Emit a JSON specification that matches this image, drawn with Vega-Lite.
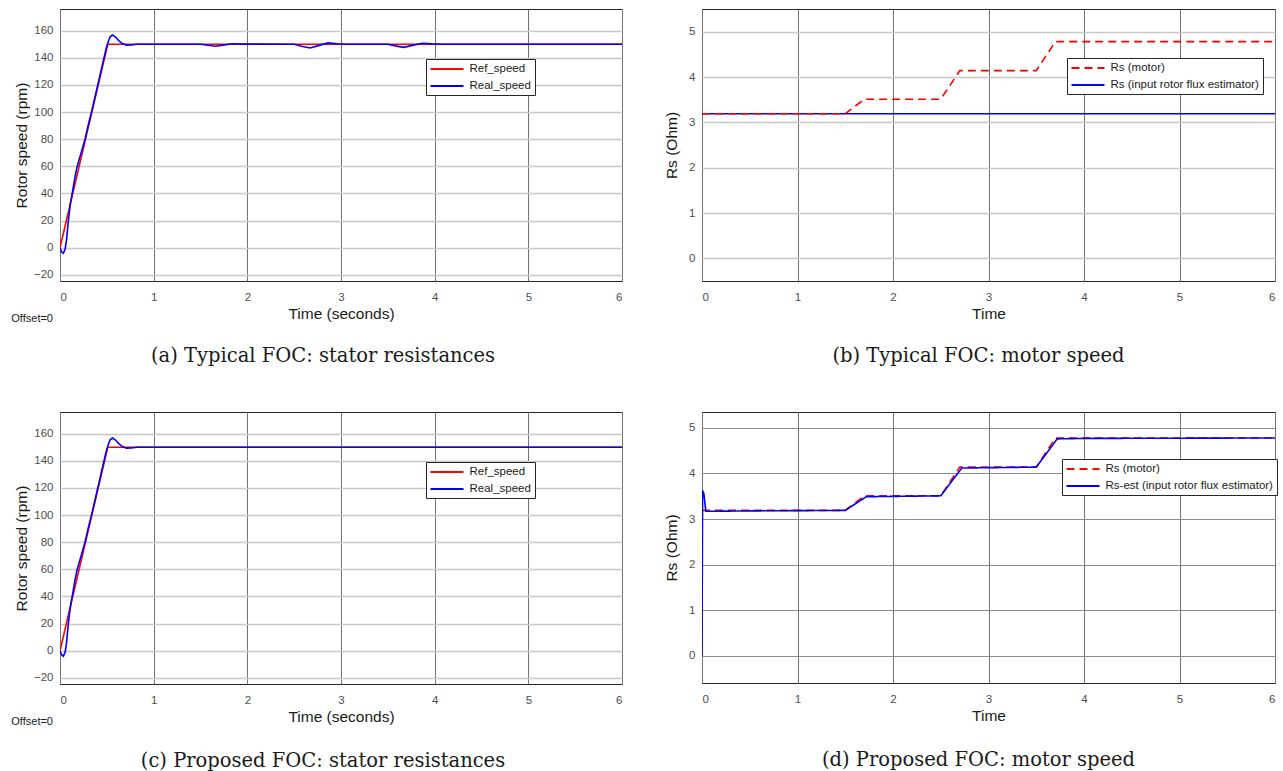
{
  "$schema": "https://vega.github.io/schema/vega-lite/v6.json",
  "background": "white",
  "padding": {"left": 10, "top": 8, "right": 0, "bottom": 0},
  "config": {
    "view": {"stroke": "#262626", "strokeWidth": 1},
    "axis": {
      "domain": false, "ticks": false,
      "labelFont": "Liberation Sans", "labelFontSize": 11.5, "labelColor": "#4d4d4d",
      "titleFont": "Liberation Sans", "titleFontSize": 15.5, "titleFontWeight": "normal", "titleColor": "#1a1a1a",
      "gridWidth": 1
    },
    "axisX": {"gridColor": "#737373", "labelPadding": 10, "titlePadding": 4},
    "axisY": {"gridColor": "#c8c8c8", "gridWidth": 1.6, "labelPadding": 7},
    "legend": {
      "orient": "none", "title": null, "strokeColor": "#262626", "fillColor": "white",
      "padding": 3.5, "labelFont": "Liberation Sans", "labelFontSize": 11.5, "labelColor": "#1a1a1a", "labelLimit": 0,
      "symbolType": "M-1,0H5", "symbolSize": 121, "symbolStrokeWidth": 2, "rowPadding": 5, "labelOffset": 27
    },
    "title": {"font": "DejaVu Serif", "fontSize": 19.5, "fontWeight": "normal", "color": "#1a1a1a", "orient": "bottom", "offset": 25}
  },
  "datasets": {
    "tl": [
      {"t": 0, "v": 0, "s": "Ref_speed"}, {"t": 0.51, "v": 150, "s": "Ref_speed"}, {"t": 6, "v": 150, "s": "Ref_speed"},
      {"t": 0, "v": 0, "s": "Real_speed"}, {"t": 0.015, "v": -3, "s": "Real_speed"}, {"t": 0.036, "v": -4, "s": "Real_speed"},
      {"t": 0.055, "v": -1, "s": "Real_speed"}, {"t": 0.07, "v": 6, "s": "Real_speed"}, {"t": 0.089, "v": 20, "s": "Real_speed"},
      {"t": 0.11, "v": 32, "s": "Real_speed"}, {"t": 0.135, "v": 42, "s": "Real_speed"}, {"t": 0.16, "v": 52, "s": "Real_speed"},
      {"t": 0.18, "v": 59, "s": "Real_speed"}, {"t": 0.2, "v": 64, "s": "Real_speed"}, {"t": 0.23, "v": 71, "s": "Real_speed"},
      {"t": 0.267, "v": 80, "s": "Real_speed"}, {"t": 0.3, "v": 90, "s": "Real_speed"}, {"t": 0.34, "v": 101, "s": "Real_speed"},
      {"t": 0.38, "v": 113, "s": "Real_speed"}, {"t": 0.42, "v": 125, "s": "Real_speed"}, {"t": 0.46, "v": 137, "s": "Real_speed"},
      {"t": 0.49, "v": 146, "s": "Real_speed"}, {"t": 0.51, "v": 151, "s": "Real_speed"}, {"t": 0.535, "v": 155.5, "s": "Real_speed"},
      {"t": 0.56, "v": 156.8, "s": "Real_speed"}, {"t": 0.59, "v": 155.5, "s": "Real_speed"}, {"t": 0.63, "v": 152.5, "s": "Real_speed"},
      {"t": 0.67, "v": 150.3, "s": "Real_speed"}, {"t": 0.71, "v": 149.4, "s": "Real_speed"}, {"t": 0.76, "v": 149.5, "s": "Real_speed"},
      {"t": 0.82, "v": 150, "s": "Real_speed"}, {"t": 1.5, "v": 150, "s": "Real_speed"},
      {"t": 1.58, "v": 149.3, "s": "Real_speed"}, {"t": 1.66, "v": 148.6, "s": "Real_speed"}, {"t": 1.74, "v": 149.4, "s": "Real_speed"},
      {"t": 1.84, "v": 150.4, "s": "Real_speed"}, {"t": 1.95, "v": 150.1, "s": "Real_speed"}, {"t": 2.5, "v": 150, "s": "Real_speed"},
      {"t": 2.58, "v": 148.6, "s": "Real_speed"}, {"t": 2.67, "v": 147.3, "s": "Real_speed"}, {"t": 2.76, "v": 149, "s": "Real_speed"},
      {"t": 2.86, "v": 151, "s": "Real_speed"}, {"t": 2.96, "v": 150.4, "s": "Real_speed"}, {"t": 3.05, "v": 150, "s": "Real_speed"},
      {"t": 3.5, "v": 150, "s": "Real_speed"}, {"t": 3.58, "v": 148.8, "s": "Real_speed"}, {"t": 3.67, "v": 147.7, "s": "Real_speed"},
      {"t": 3.76, "v": 149.2, "s": "Real_speed"}, {"t": 3.87, "v": 150.8, "s": "Real_speed"}, {"t": 3.97, "v": 150.3, "s": "Real_speed"},
      {"t": 4.08, "v": 150, "s": "Real_speed"}, {"t": 6, "v": 150, "s": "Real_speed"}
    ],
    "bl": [
      {"t": 0, "v": 0, "s": "Ref_speed"}, {"t": 0.51, "v": 150, "s": "Ref_speed"}, {"t": 6, "v": 150, "s": "Ref_speed"},
      {"t": 0, "v": 0, "s": "Real_speed"}, {"t": 0.015, "v": -3, "s": "Real_speed"}, {"t": 0.036, "v": -4, "s": "Real_speed"},
      {"t": 0.055, "v": -1, "s": "Real_speed"}, {"t": 0.07, "v": 6, "s": "Real_speed"}, {"t": 0.089, "v": 20, "s": "Real_speed"},
      {"t": 0.11, "v": 32, "s": "Real_speed"}, {"t": 0.135, "v": 42, "s": "Real_speed"}, {"t": 0.16, "v": 52, "s": "Real_speed"},
      {"t": 0.18, "v": 59, "s": "Real_speed"}, {"t": 0.2, "v": 64, "s": "Real_speed"}, {"t": 0.23, "v": 71, "s": "Real_speed"},
      {"t": 0.267, "v": 80, "s": "Real_speed"}, {"t": 0.3, "v": 90, "s": "Real_speed"}, {"t": 0.34, "v": 101, "s": "Real_speed"},
      {"t": 0.38, "v": 113, "s": "Real_speed"}, {"t": 0.42, "v": 125, "s": "Real_speed"}, {"t": 0.46, "v": 137, "s": "Real_speed"},
      {"t": 0.49, "v": 146, "s": "Real_speed"}, {"t": 0.51, "v": 151, "s": "Real_speed"}, {"t": 0.535, "v": 155.5, "s": "Real_speed"},
      {"t": 0.56, "v": 156.8, "s": "Real_speed"}, {"t": 0.59, "v": 155.5, "s": "Real_speed"}, {"t": 0.63, "v": 152.5, "s": "Real_speed"},
      {"t": 0.67, "v": 150.3, "s": "Real_speed"}, {"t": 0.71, "v": 149.4, "s": "Real_speed"}, {"t": 0.76, "v": 149.5, "s": "Real_speed"},
      {"t": 0.82, "v": 150, "s": "Real_speed"}, {"t": 6, "v": 150, "s": "Real_speed"}
    ],
    "tr": [
      {"t": 0, "v": 3.19, "s": "Rs (input rotor flux estimator)"}, {"t": 6, "v": 3.19, "s": "Rs (input rotor flux estimator)"},
      {"t": 0, "v": 3.19, "s": "Rs (motor)"}, {"t": 1.5, "v": 3.19, "s": "Rs (motor)"}, {"t": 1.7, "v": 3.51, "s": "Rs (motor)"},
      {"t": 2.5, "v": 3.51, "s": "Rs (motor)"}, {"t": 2.7, "v": 4.14, "s": "Rs (motor)"}, {"t": 3.5, "v": 4.14, "s": "Rs (motor)"},
      {"t": 3.7, "v": 4.78, "s": "Rs (motor)"}, {"t": 6, "v": 4.78, "s": "Rs (motor)"}
    ],
    "br": [
      {"t": 0, "v": 3.19, "s": "Rs (motor)"}, {"t": 1.5, "v": 3.19, "s": "Rs (motor)"}, {"t": 1.7, "v": 3.51, "s": "Rs (motor)"},
      {"t": 2.5, "v": 3.51, "s": "Rs (motor)"}, {"t": 2.7, "v": 4.14, "s": "Rs (motor)"}, {"t": 3.5, "v": 4.14, "s": "Rs (motor)"},
      {"t": 3.7, "v": 4.78, "s": "Rs (motor)"}, {"t": 6, "v": 4.78, "s": "Rs (motor)"},
      {"t": 0, "v": 0, "s": "Rs-est (input rotor flux estimator)"}, {"t": 0.006, "v": 3.63, "s": "Rs-est (input rotor flux estimator)"},
      {"t": 0.02, "v": 3.55, "s": "Rs-est (input rotor flux estimator)"}, {"t": 0.04, "v": 3.17, "s": "Rs-est (input rotor flux estimator)"},
      {"t": 0.6, "v": 3.18, "s": "Rs-est (input rotor flux estimator)"},
      {"t": 1.5, "v": 3.19, "s": "Rs-est (input rotor flux estimator)"}, {"t": 1.72, "v": 3.49, "s": "Rs-est (input rotor flux estimator)"},
      {"t": 2.5, "v": 3.51, "s": "Rs-est (input rotor flux estimator)"}, {"t": 2.72, "v": 4.12, "s": "Rs-est (input rotor flux estimator)"},
      {"t": 3.5, "v": 4.14, "s": "Rs-est (input rotor flux estimator)"}, {"t": 3.72, "v": 4.76, "s": "Rs-est (input rotor flux estimator)"},
      {"t": 4.0, "v": 4.77, "s": "Rs-est (input rotor flux estimator)"}, {"t": 6, "v": 4.78, "s": "Rs-est (input rotor flux estimator)"}
    ],
    "one": [{"label": "Offset=0"}]
  },
  "resolve": {"scale": {"color": "independent", "strokeDash": "independent"}, "legend": {"color": "independent", "strokeDash": "independent"}},
  "spacing": 45,
  "vconcat": [
    {
      "resolve": {"scale": {"color": "independent", "strokeDash": "independent"}, "legend": {"color": "independent", "strokeDash": "independent"}},
      "spacing": 41,
      "hconcat": [
        {
          "width": 562, "height": 272,
          "title": {"text": "(a) Typical FOC: stator resistances", "dx": -18, "offset": 23},
          "layer": [
            {
              "data": {"name": "tl"},
              "mark": {"type": "line", "strokeWidth": 1.6, "clip": true},
              "encoding": {
                "x": {"field": "t", "type": "quantitative", "scale": {"domain": [0, 6], "nice": false}, "axis": {"title": "Time (seconds)", "values": [0, 1, 2, 3, 4, 5, 6], "format": "d"}},
                "y": {"field": "v", "type": "quantitative", "scale": {"domain": [-24.5, 176], "nice": false, "zero": false}, "axis": {"title": "Rotor speed (rpm)", "values": [-20, 0, 20, 40, 60, 80, 100, 120, 140, 160], "format": "d"}},
                "color": {"field": "s", "type": "nominal", "scale": {"domain": ["Ref_speed", "Real_speed"], "range": ["#ff0000", "#0000ff"]}, "legend": {"legendX": 366, "legendY": 50}},
                "order": {"field": "s", "sort": "descending"}
              }
            },
            {
              "data": {"name": "one"},
              "mark": {"type": "text", "font": "Liberation Sans", "fontSize": 11, "color": "#1a1a1a", "align": "left", "baseline": "middle"},
              "encoding": {
                "x": {"datum": -0.52, "type": "quantitative", "scale": {"domain": [0, 6], "nice": false}, "axis": {"title": "Time (seconds)", "values": [0, 1, 2, 3, 4, 5, 6], "format": "d"}},
                "y": {"datum": -52.5, "type": "quantitative", "scale": {"domain": [-24.5, 176], "nice": false, "zero": false}, "axis": {"title": "Rotor speed (rpm)", "values": [-20, 0, 20, 40, 60, 80, 100, 120, 140, 160], "format": "d"}},
                "text": {"field": "label"}
              }
            }
          ]
        },
        {
          "width": 573, "height": 272,
          "title": {"text": "(b) Typical FOC: motor speed", "dx": -10},
          "data": {"name": "tr"},
          "mark": {"type": "line", "strokeWidth": 1.6, "clip": true},
          "encoding": {
            "x": {"field": "t", "type": "quantitative", "scale": {"domain": [0, 6], "nice": false}, "axis": {"title": "Time", "values": [0, 1, 2, 3, 4, 5, 6], "format": "d"}},
            "y": {"field": "v", "type": "quantitative", "scale": {"domain": [-0.5, 5.5], "nice": false, "zero": false}, "axis": {"title": "Rs (Ohm)", "values": [0, 1, 2, 3, 4, 5], "format": "d", "titlePadding": 9}},
            "color": {"field": "s", "type": "nominal", "scale": {"domain": ["Rs (motor)", "Rs (input rotor flux estimator)"], "range": ["#ff0000", "#0000ff"]}, "legend": {"legendX": 365, "legendY": 49}},
            "strokeDash": {"field": "s", "type": "nominal", "scale": {"domain": ["Rs (motor)", "Rs (input rotor flux estimator)"], "range": [[8, 5], [1, 0]]}, "legend": {"legendX": 365, "legendY": 49}}
          }
        }
      ]
    },
    {
      "resolve": {"scale": {"color": "independent", "strokeDash": "independent"}, "legend": {"color": "independent", "strokeDash": "independent"}},
      "spacing": 41,
      "hconcat": [
        {
          "width": 562, "height": 272,
          "title": {"text": "(c) Proposed FOC: stator resistances", "dx": -18, "offset": 25},
          "layer": [
            {
              "data": {"name": "bl"},
              "mark": {"type": "line", "strokeWidth": 1.6, "clip": true},
              "encoding": {
                "x": {"field": "t", "type": "quantitative", "scale": {"domain": [0, 6], "nice": false}, "axis": {"title": "Time (seconds)", "values": [0, 1, 2, 3, 4, 5, 6], "format": "d"}},
                "y": {"field": "v", "type": "quantitative", "scale": {"domain": [-24.5, 176], "nice": false, "zero": false}, "axis": {"title": "Rotor speed (rpm)", "values": [-20, 0, 20, 40, 60, 80, 100, 120, 140, 160], "format": "d"}},
                "color": {"field": "s", "type": "nominal", "scale": {"domain": ["Ref_speed", "Real_speed"], "range": ["#ff0000", "#0000ff"]}, "legend": {"legendX": 366, "legendY": 50}},
                "order": {"field": "s", "sort": "descending"}
              }
            },
            {
              "data": {"name": "one"},
              "mark": {"type": "text", "font": "Liberation Sans", "fontSize": 11, "color": "#1a1a1a", "align": "left", "baseline": "middle"},
              "encoding": {
                "x": {"datum": -0.52, "type": "quantitative", "scale": {"domain": [0, 6], "nice": false}, "axis": {"title": "Time (seconds)", "values": [0, 1, 2, 3, 4, 5, 6], "format": "d"}},
                "y": {"datum": -52.5, "type": "quantitative", "scale": {"domain": [-24.5, 176], "nice": false, "zero": false}, "axis": {"title": "Rotor speed (rpm)", "values": [-20, 0, 20, 40, 60, 80, 100, 120, 140, 160], "format": "d"}},
                "text": {"field": "label"}
              }
            }
          ]
        },
        {
          "width": 573, "height": 271,
          "title": {"text": "(d) Proposed FOC: motor speed", "dx": -10, "offset": 27},
          "data": {"name": "br"},
          "mark": {"type": "line", "strokeWidth": 1.6, "clip": true},
          "encoding": {
            "x": {"field": "t", "type": "quantitative", "scale": {"domain": [0, 6], "nice": false}, "axis": {"title": "Time", "values": [0, 1, 2, 3, 4, 5, 6], "format": "d"}},
            "y": {"field": "v", "type": "quantitative", "scale": {"domain": [-0.6, 5.35], "nice": false, "zero": false}, "axis": {"title": "Rs (Ohm)", "values": [0, 1, 2, 3, 4, 5], "format": "d", "titlePadding": 9, "gridColor": "#8c8c8c", "gridWidth": 1}},
            "color": {"field": "s", "type": "nominal", "scale": {"domain": ["Rs (motor)", "Rs-est (input rotor flux estimator)"], "range": ["#ff0000", "#0000ff"]}, "legend": {"legendX": 360, "legendY": 47}},
            "strokeDash": {"field": "s", "type": "nominal", "scale": {"domain": ["Rs (motor)", "Rs-est (input rotor flux estimator)"], "range": [[8, 5], [1, 0]]}, "legend": {"legendX": 360, "legendY": 47}}
          }
        }
      ]
    }
  ]
}
